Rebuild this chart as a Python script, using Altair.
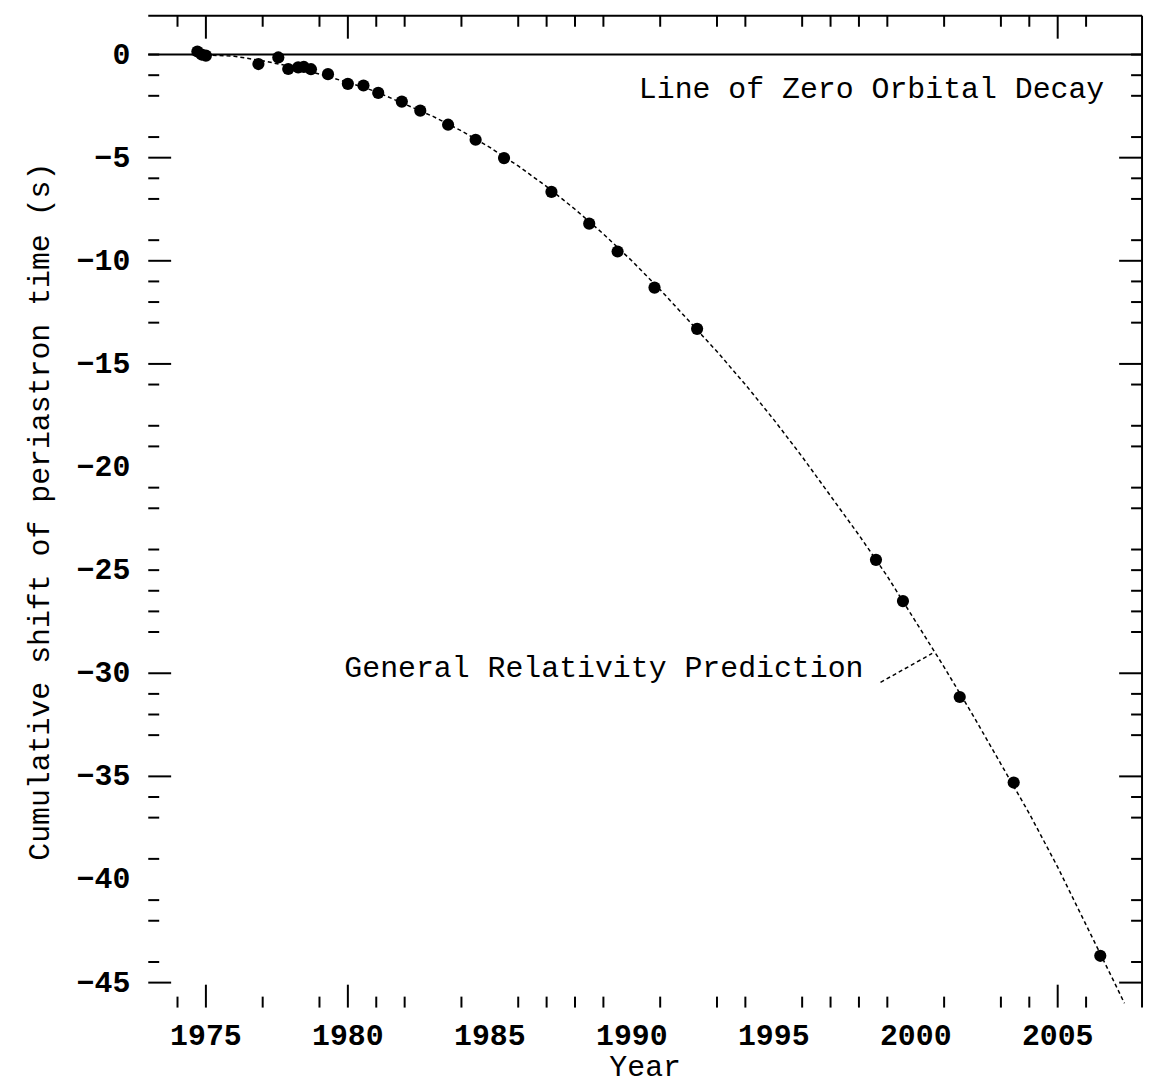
import altair as alt
import pandas as pd

# ---------------- data ----------------
obs_year = [1974.7, 1974.85, 1975.0, 1976.85, 1977.55, 1977.9, 1978.25, 1978.45, 1978.7,
            1979.3, 1980.0, 1980.55, 1981.07, 1981.9, 1982.55, 1983.53, 1984.5, 1985.5,
            1987.17, 1988.5, 1989.5, 1990.8, 1992.3, 1998.6, 1999.55, 2001.55, 2003.45, 2006.5]
obs_shift = [0.15, 0.0, -0.05, -0.46, -0.14, -0.7, -0.62, -0.6, -0.71,
             -0.95, -1.42, -1.5, -1.86, -2.28, -2.72, -3.4, -4.13, -5.02,
             -6.66, -8.2, -9.55, -11.3, -13.3, -24.5, -26.5, -31.15, -35.3, -43.7]

gr_year = [1974.5, 1975, 1976, 1977, 1978, 1979, 1980, 1981, 1982, 1983, 1984, 1985, 1986,
           1987, 1988, 1989, 1990, 1991, 1992, 1993, 1994, 1995, 1996, 1997, 1998, 1999,
           2000, 2001, 2002, 2003, 2004, 2005, 2006, 2007, 2007.35]
gr_shift = [0.0, -0.02, -0.08, -0.3, -0.58, -0.95, -1.35, -1.8, -2.4, -3.0, -3.7, -4.5, -5.4,
            -6.4, -7.5, -8.7, -10.0, -11.4, -12.9, -14.4, -16.0, -17.7, -19.5, -21.4, -23.3, -25.3,
            -27.5, -29.7, -32.0, -34.4, -36.8, -39.4, -42.2, -45.0, -46.0]

x_label_values = [1975, 1980, 1985, 1990, 1995, 2000, 2005]
y_label_values = [0, -5, -10, -15, -20, -25, -30, -35, -40, -45]
x_title = "Year"
y_title = "Cumulative shift of periastron time (s)"

# tick marks as they appear in the reference (inward ticks)
x_major_ticks = [1975, 1980, 2005]
x_minor_ticks = [1974, 1977, 1979, 1981, 1982, 1984, 1986, 1987, 1988, 1989, 1991, 1993, 1994,
                 1996, 1997, 1998, 1999, 2001, 2003, 2004, 2006]
y_major_ticks = [-5, -10, -15, -30, -35, -45]
y_minor_ticks = [0, -1, -2, -4, -6, -7, -9, -11, -12, -13, -16, -18, -19, -21, -22, -24, -25,
                 -26, -27, -28, -31, -32, -33, -36, -37, -39, -41, -42, -44]

zero_line = [0]
leader_year = [1998.76, 2000.58]
leader_shift = [-30.44, -29.04]

labels_text = ["Line of Zero Orbital Decay", "General Relativity Prediction"]
labels_year = [2006.64, 1998.16]
labels_shift = [-1.69, -29.75]

# ---------------- layout ----------------
W, H = 999, 997
X_DOMAIN = [1972.97, 2007.97]
Y_DOMAIN = [-46.21, 1.88]
FONT = "Liberation Mono"
FS = 30
MAJ, MIN = 23, 11

xs = alt.Scale(domain=X_DOMAIN, nice=False, zero=False)
ys = alt.Scale(domain=Y_DOMAIN, nice=False, zero=False)

obs_df = pd.DataFrame({"year": obs_year, "shift": obs_shift})
gr_df = pd.DataFrame({"year": gr_year, "shift": gr_shift})
lead_df = pd.DataFrame({"year": leader_year, "shift": leader_shift})
txt_df = pd.DataFrame({"year": labels_year, "shift": labels_shift, "label": labels_text})
zero_df = pd.DataFrame({"shift": zero_line})
xlab_df = pd.DataFrame({"year": x_label_values, "label": [str(v) for v in x_label_values]})
ylab_df = pd.DataFrame({"shift": y_label_values,
                        "label": [("\u2212" + str(-v)) if v < 0 else str(v) for v in y_label_values]})
xtitle_df = pd.DataFrame({"label": [x_title]})
ytitle_df = pd.DataFrame({"label": [y_title]})

X = lambda: alt.X("year:Q", scale=xs, axis=None)
Y = lambda: alt.Y("shift:Q", scale=ys, axis=None)

curve = alt.Chart(gr_df).mark_line(color="black", strokeWidth=1.5, strokeDash=[4, 3],
                                   clip=True).encode(x=X(), y=Y())

points = alt.Chart(obs_df).mark_point(filled=True, color="black", opacity=1, size=150,
                                      shape="circle").encode(x=X(), y=Y())

zero = alt.Chart(zero_df).mark_rule(color="black", strokeWidth=2).encode(y=Y())

leader = alt.Chart(lead_df).mark_line(color="black", strokeWidth=1.5,
                                      strokeDash=[4, 3]).encode(x=X(), y=Y())

texts = alt.Chart(txt_df).mark_text(font=FONT, fontSize=FS, align="right", baseline="middle",
                                    color="black").encode(x=X(), y=Y(), text="label:N")

frame_top = alt.Chart(zero_df).mark_rule(color="black", strokeWidth=2).encode(
    y=alt.value(0), x=alt.value(0), x2=alt.value(W))
frame_right = alt.Chart(zero_df).mark_rule(color="black", strokeWidth=2).encode(
    x=alt.value(W), y=alt.value(0), y2=alt.value(H))

# tick labels and axis titles
xlabels = alt.Chart(xlab_df).mark_text(font=FONT, fontSize=FS, fontWeight="bold",
                                       align="center", baseline="middle", color="black").encode(
    x=X(), y=alt.value(H + 29), text="label:N")
ylabels = alt.Chart(ylab_df).mark_text(font=FONT, fontSize=FS, fontWeight="bold",
                                       align="right", baseline="middle", color="black").encode(
    y=Y(), x=alt.value(-18), text="label:N")
xtitle = alt.Chart(xtitle_df).mark_text(font=FONT, fontSize=FS, align="center",
                                        baseline="middle", color="black").encode(
    x=alt.value(W / 2), y=alt.value(H + 60), text="label:N")
ytitle = alt.Chart(ytitle_df).mark_text(font=FONT, fontSize=FS, align="center",
                                        baseline="middle", angle=270, color="black").encode(
    x=alt.value(-109), y=alt.value(H / 2), text="label:N")


def xticks(vals, length):
    df = pd.DataFrame({"year": vals})
    bottom = alt.Chart(df).mark_rule(color="black", strokeWidth=2).encode(
        x=X(), y=alt.value(H), y2=alt.value(H - length))
    top = alt.Chart(df).mark_rule(color="black", strokeWidth=2).encode(
        x=X(), y=alt.value(0), y2=alt.value(length))
    return [bottom, top]


def yticks(vals, length):
    df = pd.DataFrame({"shift": vals})
    left = alt.Chart(df).mark_rule(color="black", strokeWidth=2).encode(
        y=Y(), x=alt.value(0), x2=alt.value(length))
    right = alt.Chart(df).mark_rule(color="black", strokeWidth=2).encode(
        y=Y(), x=alt.value(W), x2=alt.value(W - length))
    return [left, right]


layers = [curve, zero, frame_top, frame_right]
layers += xticks(x_major_ticks, MAJ) + xticks(x_minor_ticks, MIN)
layers += yticks(y_major_ticks, MAJ) + yticks(y_minor_ticks, MIN)
layers += [leader, points, texts, xlabels, ylabels, xtitle, ytitle]

chart = alt.layer(*layers).properties(
    width=W, height=H,
    padding={"left": 141, "top": 5, "right": 4, "bottom": 74},
    autosize=alt.AutoSizeParams(type="none"),
    background="white",
).configure_view(stroke=None)

chart.save("out.html", embed_options={"renderer": "svg", "actions": False})
